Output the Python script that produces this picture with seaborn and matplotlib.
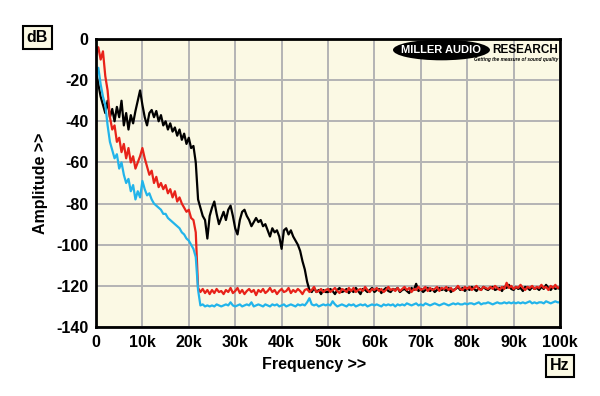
import numpy as np
import pandas as pd
import matplotlib.pyplot as plt
import seaborn as sns
from matplotlib.patches import Ellipse

# frequency grid, 500 Hz steps
freq_hz = np.arange(0, 100001, 500)

black_db = [
    -16, -22, -28, -32, -36, -30, -38, -34, -40, -33,
    -38, -30, -42, -36, -44, -37, -41, -35, -30, -25,
    -32, -38, -42, -36, -34.5, -38, -35, -40, -37, -42,
    -40, -44, -41, -45, -43, -47, -44, -49, -46, -51,
    -48, -53, -52, -60, -78, -82, -86, -88, -97, -86,
    -82, -79, -85, -90, -87, -84, -88, -83, -81, -86,
    -92, -95, -88, -84, -83, -86, -88, -91, -89, -87,
    -89, -88, -91, -90, -93, -96, -92, -94, -93, -96,
    -102, -93, -92, -95, -93, -96, -98, -100, -103, -108,
    -112, -118, -122, -123, -121, -123, -122, -124, -122, -123,
    -123, -121.5, -122.5, -124, -122, -121, -123, -122.5, -121.5, -123.5,
    -122, -123, -121, -122.5, -124, -121.5, -122, -123, -122, -121,
    -123, -122, -121.5, -123.5, -122, -121, -122.5, -123, -121.5, -122,
    -121, -123, -122, -121.5, -122.5, -123.5, -121, -122, -119, -122.5,
    -121.5, -123, -122, -121, -122.5, -121.5, -123, -122, -121, -122,
    -121.5, -122.5, -121, -123, -122, -121.5, -120.5, -122, -121, -122.5,
    -121, -122, -120.5, -121.5, -122.5, -121, -122, -120.5, -121.5, -122,
    -121, -120.5, -122, -121.5, -121, -122.5, -120.5, -121, -119.5, -121.5,
    -122, -120.5, -121.5, -121, -122.5, -120.5, -121, -122, -120.5, -121.5,
    -121, -122, -120.5, -121.5, -119.5, -121, -122, -120.5, -121.5, -121,
    -121.5,
]

red_db = [
    -8, -4, -10, -6, -18, -25, -38, -44, -42, -50,
    -48, -55, -51, -58, -53, -60, -57, -63, -60, -57,
    -53, -58, -62, -66, -64, -70, -67, -72, -70, -73,
    -71, -75, -73, -77, -74, -79, -77, -80, -82, -84,
    -83, -87, -88, -94, -121, -123, -121.5, -123.5, -122, -124,
    -122, -123.5, -121.5, -123, -122.5, -124, -122, -123, -121, -123.5,
    -122.5, -121, -123.5, -122, -124, -122.5, -121.5, -123, -122, -124.5,
    -122, -123, -121.5, -123.5, -122.5, -121, -123, -122, -124, -122.5,
    -121.5, -123, -122.5, -121, -123.5, -122, -123, -121.5, -122.5, -124,
    -122, -121.5, -123, -122, -120.5, -123, -122.5, -121.5, -123, -122,
    -121.5, -123, -122, -121, -122.5, -123.5, -121.5, -122, -123, -121,
    -122.5, -121, -123, -122, -121.5, -122.5, -120.5, -122, -123, -121.5,
    -122, -121, -122.5, -121.5, -123, -122, -120.5, -122, -121.5, -122.5,
    -121, -122.5, -121.5, -120.5, -122, -121, -123, -121.5, -122, -120.5,
    -122, -121.5, -120.5, -122.5, -121, -122, -121.5, -120.5, -122.5, -121,
    -121.5, -120.5, -122, -121, -122.5, -121.5, -120, -121.5, -122, -120.5,
    -121.5, -120.5, -122, -121, -120, -121.5, -122, -120.5, -121, -121.5,
    -120.5, -121.5, -120, -121, -122, -120.5, -121.5, -118.5, -121, -120,
    -121.5, -120.5, -121, -119.5, -121, -122, -120.5, -121, -120, -121.5,
    -120.5, -121, -119.5, -121, -120.5, -122, -120, -121, -119.5, -121,
    -120.5,
]

cyan_db = [
    -18, -14, -22, -28, -32, -42, -50, -54, -58, -56,
    -63, -60, -66, -70, -68, -74, -71, -78, -74, -77,
    -69, -73, -76, -75, -78, -80, -81, -82, -83, -85,
    -85, -87, -88, -89, -90, -91, -92, -94, -95, -97,
    -98, -100, -102, -106, -122, -129.5, -129, -130, -129.5, -130,
    -129.5, -130, -129, -129.5, -130, -129.5, -129, -129.5, -128, -129.5,
    -130, -129.5, -129, -130, -129.5, -129, -129.5, -128, -130, -129.5,
    -129, -129.5, -130, -129, -129.5, -130, -129, -129.5, -129, -130,
    -129.5, -129, -130, -129.5, -129, -129.5, -130, -129, -129.5, -129,
    -129.5, -128, -126, -129, -129.5, -129, -130, -129.5, -129, -129.5,
    -129, -129.5, -127.5, -129, -130, -129.5, -129, -129.5, -130, -129,
    -129.5, -129, -130, -129.5, -129, -129.5, -129, -130, -129.5, -129,
    -129.5, -129, -129.5, -130, -129, -129.5, -129, -129.5, -129, -130,
    -129, -129.5, -129, -129.5, -128.5, -129, -129.5, -129, -128.5, -129.5,
    -129, -129.5, -128.5, -129, -129.5, -129, -128.5, -129, -129.5, -129,
    -128.5, -129, -129.5, -129, -128.5, -129, -128.5, -129, -129, -128.5,
    -129, -128.5, -128.5, -129, -128.5, -128, -129, -128.5, -128.5, -128,
    -128.5, -129, -128.5, -128, -128.5, -128.5, -128, -128.5, -128, -128.5,
    -128, -128.5, -128, -128.5, -128, -128.5, -128, -127.5, -128.5, -128,
    -128.5, -128, -128, -128.5, -127.5, -128, -128.5, -128, -127.5, -128,
    -128,
]

x_ticks = [0, 10000, 20000, 30000, 40000, 50000, 60000, 70000, 80000, 90000, 100000]
x_labels = ['0', '10k', '20k', '30k', '40k', '50k', '60k', '70k', '80k', '90k', '100k']
y_ticks = [0, -20, -40, -60, -80, -100, -120, -140]

df = pd.DataFrame({
    'freq': np.concatenate([freq_hz] * 3),
    'level': black_db + red_db + cyan_db,
    'trace': ['black'] * len(black_db) + ['red'] * len(red_db) + ['cyan'] * len(cyan_db),
})

sns.set_theme(style='whitegrid')
plt.rcParams['font.family'] = ['Liberation Sans', 'DejaVu Sans']
plt.rcParams['text.color'] = 'black'
plt.rcParams['xtick.color'] = 'black'
plt.rcParams['ytick.color'] = 'black'

fig = plt.figure(figsize=(6, 3.96), dpi=100)
ax = fig.add_axes([0.16, 0.1742, 0.7733, 0.7273])
ax.set_facecolor('#fbf9e4')

sns.lineplot(data=df, x='freq', y='level', hue='trace',
             hue_order=['black', 'red', 'cyan'],
             palette={'black': '#000000', 'red': '#e8231a', 'cyan': '#22b4ea'},
             estimator=None, sort=False, linewidth=1.6, legend=False, ax=ax)

ax.set_xlim(0, 100000)
ax.set_ylim(-140, 0)
ax.set_xticks(x_ticks)
ax.set_xticklabels(x_labels)
ax.set_yticks(y_ticks)
ax.set_yticklabels([str(v) for v in y_ticks])
ax.set_xlabel('')
ax.set_ylabel('')
ax.grid(True, color='#b4b4b4', linewidth=1.4)
for s in ax.spines.values():
    s.set_color('black')
    s.set_linewidth(2)
ax.tick_params(axis='both', which='both', direction='out', length=4, width=1.2,
               color='black', labelcolor='black', labelsize=11.5, pad=1.5)
for lab in ax.get_xticklabels() + ax.get_yticklabels():
    lab.set_fontweight('bold')

# logo
ax.add_patch(Ellipse((0.7446, 0.962), 0.209, 0.072, transform=ax.transAxes,
                     facecolor='black', edgecolor='none', zorder=5))
ax.text(0.7446, 0.962, 'MILLER AUDIO', transform=ax.transAxes, color='white',
        fontsize=8, fontweight='bold', ha='center', va='center', zorder=6)
ax.text(0.996, 0.962, 'RESEARCH', transform=ax.transAxes, color='black',
        fontsize=8.5, fontweight='bold', ha='right', va='center', zorder=6)
ax.text(0.996, 0.928, 'Getting the measure of sound quality', transform=ax.transAxes,
        color='black', fontsize=3.4, fontweight='bold', style='italic',
        ha='right', va='center', zorder=6)

box = dict(boxstyle='square,pad=0.25', facecolor='#fbf9e4', edgecolor='black', linewidth=1.5)
fig.text(37.5 / 600, 1 - 37.5 / 396, 'dB', fontsize=11.5, fontweight='bold',
         ha='center', va='center', bbox=box)
fig.text(560 / 600, 1 - 366 / 396, 'Hz', fontsize=11.5, fontweight='bold',
         ha='center', va='center', bbox=box)
fig.text(314 / 600, 1 - 365 / 396, 'Frequency >>', fontsize=11.5, fontweight='bold',
         ha='center', va='center')
fig.text(40 / 600, 1 - 183 / 396, 'Amplitude >>', fontsize=11.5, fontweight='bold',
         ha='center', va='center', rotation=90)

fig.savefig('out.png', dpi=100, facecolor='white')
